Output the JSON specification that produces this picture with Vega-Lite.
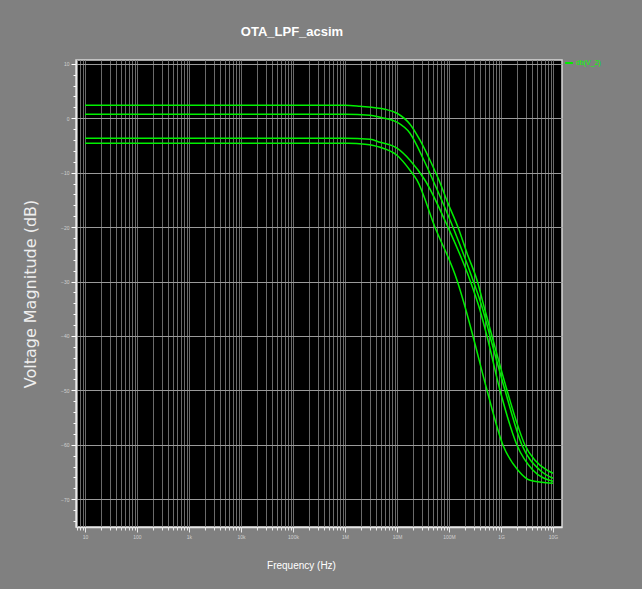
{
  "$schema": "https://vega.github.io/schema/vega-lite/v6.json",
  "autosize": "none",
  "width": 486,
  "height": 467,
  "padding": {"left": 76, "top": 60, "right": 80, "bottom": 62},
  "background": "#808080",
  "title": {
    "text": "OTA_LPF_acsim",
    "font": "Liberation Sans Narrow, Liberation Sans, sans-serif",
    "fontSize": 13,
    "fontWeight": "bold",
    "color": "#ffffff",
    "anchor": "middle",
    "frame": "group",
    "dx": -27,
    "offset": 19
  },
  "config": {
    "view": {"stroke": "#d8d8d8", "strokeWidth": 1.5, "fill": "#000000"}
  },
  "data": {
    "values": [
      {"run": "A", "s": "db(V_2)", "f": 10, "db": 2.39},
      {"run": "A", "s": "db(V_2)", "f": 1e6, "db": 2.39},
      {"run": "A", "s": "db(V_2)", "f": 1.943e6, "db": 2.2},
      {"run": "A", "s": "db(V_2)", "f": 5.878e6, "db": 1.65},
      {"run": "A", "s": "db(V_2)", "f": 1e7, "db": 0.92},
      {"run": "A", "s": "db(V_2)", "f": 1.778e7, "db": -1.1},
      {"run": "A", "s": "db(V_2)", "f": 2.769e7, "db": -4.04},
      {"run": "A", "s": "db(V_2)", "f": 4.311e7, "db": -7.72},
      {"run": "A", "s": "db(V_2)", "f": 6.422e7, "db": -11.39},
      {"run": "A", "s": "db(V_2)", "f": 9.568e7, "db": -15.62},
      {"run": "A", "s": "db(V_2)", "f": 1.49e8, "db": -20.03},
      {"run": "A", "s": "db(V_2)", "f": 2.22e8, "db": -24.8},
      {"run": "A", "s": "db(V_2)", "f": 3.456e8, "db": -29.76},
      {"run": "A", "s": "db(V_2)", "f": 4.924e8, "db": -35.27},
      {"run": "A", "s": "db(V_2)", "f": 6.713e8, "db": -40.05},
      {"run": "A", "s": "db(V_2)", "f": 1.304e9, "db": -49.97},
      {"run": "A", "s": "db(V_2)", "f": 1.943e9, "db": -55.48},
      {"run": "A", "s": "db(V_2)", "f": 2.894e9, "db": -60.08},
      {"run": "A", "s": "db(V_2)", "f": 4.506e9, "db": -62.83},
      {"run": "A", "s": "db(V_2)", "f": 7.663e9, "db": -64.67},
      {"run": "A", "s": "db(V_2)", "f": 1e10, "db": -65.22},
      {"run": "B", "s": "db(V_2)", "f": 10, "db": 0.73},
      {"run": "B", "s": "db(V_2)", "f": 1e6, "db": 0.73},
      {"run": "B", "s": "db(V_2)", "f": 3.026e6, "db": 0.55},
      {"run": "B", "s": "db(V_2)", "f": 4.711e6, "db": 0.18},
      {"run": "B", "s": "db(V_2)", "f": 1e7, "db": -0.73},
      {"run": "B", "s": "db(V_2)", "f": 1.778e7, "db": -2.76},
      {"run": "B", "s": "db(V_2)", "f": 3.162e7, "db": -7.35},
      {"run": "B", "s": "db(V_2)", "f": 4.924e7, "db": -11.39},
      {"run": "B", "s": "db(V_2)", "f": 1.194e8, "db": -20.03},
      {"run": "B", "s": "db(V_2)", "f": 2.894e8, "db": -29.76},
      {"run": "B", "s": "db(V_2)", "f": 4.506e8, "db": -35.27},
      {"run": "B", "s": "db(V_2)", "f": 6.143e8, "db": -40.05},
      {"run": "B", "s": "db(V_2)", "f": 1.194e9, "db": -49.97},
      {"run": "B", "s": "db(V_2)", "f": 2.534e9, "db": -60.08},
      {"run": "B", "s": "db(V_2)", "f": 5.623e9, "db": -64.67},
      {"run": "B", "s": "db(V_2)", "f": 1e10, "db": -66.14},
      {"run": "C", "s": "db(V_2)", "f": 10, "db": -3.67},
      {"run": "C", "s": "db(V_2)", "f": 1e6, "db": -3.67},
      {"run": "C", "s": "db(V_2)", "f": 3.026e6, "db": -3.86},
      {"run": "C", "s": "db(V_2)", "f": 4.711e6, "db": -4.41},
      {"run": "C", "s": "db(V_2)", "f": 1e7, "db": -5.51},
      {"run": "C", "s": "db(V_2)", "f": 1.778e7, "db": -7.72},
      {"run": "C", "s": "db(V_2)", "f": 3.456e7, "db": -11.39},
      {"run": "C", "s": "db(V_2)", "f": 9.568e7, "db": -20.03},
      {"run": "C", "s": "db(V_2)", "f": 2.534e8, "db": -29.76},
      {"run": "C", "s": "db(V_2)", "f": 3.947e8, "db": -35.27},
      {"run": "C", "s": "db(V_2)", "f": 5.38e8, "db": -40.05},
      {"run": "C", "s": "db(V_2)", "f": 9.568e8, "db": -49.97},
      {"run": "C", "s": "db(V_2)", "f": 2.031e9, "db": -60.08},
      {"run": "C", "s": "db(V_2)", "f": 4.125e9, "db": -64.67},
      {"run": "C", "s": "db(V_2)", "f": 1e10, "db": -66.69},
      {"run": "D", "s": "db(V_2)", "f": 10, "db": -4.59},
      {"run": "D", "s": "db(V_2)", "f": 1.142e6, "db": -4.59},
      {"run": "D", "s": "db(V_2)", "f": 2.424e6, "db": -4.78},
      {"run": "D", "s": "db(V_2)", "f": 4.711e6, "db": -5.33},
      {"run": "D", "s": "db(V_2)", "f": 1e7, "db": -6.8},
      {"run": "D", "s": "db(V_2)", "f": 1.778e7, "db": -9.55},
      {"run": "D", "s": "db(V_2)", "f": 2.424e7, "db": -11.39},
      {"run": "D", "s": "db(V_2)", "f": 5.38e7, "db": -20.03},
      {"run": "D", "s": "db(V_2)", "f": 1.425e8, "db": -29.76},
      {"run": "D", "s": "db(V_2)", "f": 2.123e8, "db": -35.27},
      {"run": "D", "s": "db(V_2)", "f": 2.894e8, "db": -40.05},
      {"run": "D", "s": "db(V_2)", "f": 5.38e8, "db": -49.97},
      {"run": "D", "s": "db(V_2)", "f": 1.093e9, "db": -60.08},
      {"run": "D", "s": "db(V_2)", "f": 2.123e9, "db": -64.67},
      {"run": "D", "s": "db(V_2)", "f": 3.612e9, "db": -66.51},
      {"run": "D", "s": "db(V_2)", "f": 1e10, "db": -67.06}
    ]
  },
  "mark": {"type": "line", "interpolate": "monotone", "strokeWidth": 1.5, "clip": true},
  "encoding": {
    "x": {
      "field": "f",
      "type": "quantitative",
      "scale": {"type": "log", "domain": [6.72, 1.489e10], "nice": false},
      "axis": {
        "title": "Frequency (Hz)",
        "titleFont": "Liberation Sans Narrow, Liberation Sans, sans-serif",
        "titleFontSize": 10,
        "titleFontWeight": "normal",
        "titleColor": "#ffffff",
        "titleX": 225,
        "titleY": 38,
        "titleAlign": "center",
        "titleBaseline": "middle",
        "values": [7, 8, 9, 10, 20, 30, 40, 50, 60, 70, 80, 90, 100, 200, 300, 400, 500, 600, 700, 800, 900, 1000, 2000, 3000, 4000, 5000, 6000, 7000, 8000, 9000, 10000, 20000, 30000, 40000, 50000, 60000, 70000, 80000, 90000, 100000, 200000, 300000, 400000, 500000, 600000, 700000, 800000, 900000, 1000000, 2000000, 3000000, 4000000, 5000000, 6000000, 7000000, 8000000, 9000000, 10000000, 20000000, 30000000, 40000000, 50000000, 60000000, 70000000, 80000000, 90000000, 100000000, 200000000, 300000000, 400000000, 500000000, 600000000, 700000000, 800000000, 900000000, 1000000000, 2000000000, 3000000000, 4000000000, 5000000000, 6000000000, 7000000000, 8000000000, 9000000000, 10000000000],
        "labelExpr": "abs(log(datum.value)/LN10 - round(log(datum.value)/LN10)) < 1e-6 ? format(datum.value, '~s') : ''",
        "labelOverlap": false,
        "labelFlush": false,
        "labelFontSize": 5,
        "labelColor": "#d0d0d0",
        "labelPadding": 2,
        "tickColor": "#e8e8e8",
        "tickSize": {"condition": {"test": "abs(log(datum.value)/LN10 - round(log(datum.value)/LN10)) < 1e-6", "value": 5}, "value": 3},
        "domainColor": "#e8e8e8",
        "domainWidth": 1.5,
        "grid": true,
        "gridColor": "#6a6a6a",
        "gridWidth": 1
      }
    },
    "y": {
      "field": "db",
      "type": "quantitative",
      "scale": {"domain": [-75.1, 10.7], "nice": false, "zero": false},
      "axis": {
        "title": "Voltage Magnitude (dB)",
        "titleFont": "DejaVu Sans, sans-serif",
        "titleFontSize": 16,
        "titleFontWeight": "normal",
        "titleColor": "#eeeeee",
        "titleAngle": 270,
        "titleX": -46,
        "titleY": 233.5,
        "titleAlign": "center",
        "titleBaseline": "middle",
        "values": [-74, -72, -70, -68, -66, -64, -62, -60, -58, -56, -54, -52, -50, -48, -46, -44, -42, -40, -38, -36, -34, -32, -30, -28, -26, -24, -22, -20, -18, -16, -14, -12, -10, -8, -6, -4, -2, 0, 2, 4, 6, 8, 10],
        "labelExpr": "datum.value % 10 === 0 ? datum.label : ''",
        "labelOverlap": false,
        "labelFlush": false,
        "labelFontSize": 5,
        "labelColor": "#d0d0d0",
        "labelPadding": 2,
        "tickColor": "#ffffff",
        "tickSize": {"condition": {"test": "datum.value % 10 === 0", "value": 5}, "value": 3},
        "domainColor": "#e8e8e8",
        "domainWidth": 1.5,
        "grid": true,
        "gridColor": "#9a9a9a",
        "gridOpacity": {"condition": {"test": "datum.value % 10 === 0", "value": 1}, "value": 0},
        "gridWidth": 1
      }
    },
    "detail": {"field": "run"},
    "color": {
      "field": "s",
      "type": "nominal",
      "scale": {"range": ["#00f000"]},
      "legend": {
        "title": null,
        "orient": "none",
        "legendX": 488,
        "legendY": -2,
        "symbolType": "stroke",
        "symbolStrokeWidth": 2,
        "symbolSize": 60,
        "labelColor": "#00ff00",
        "labelFontSize": 7,
        "labelOffset": 2
      }
    }
  }
}
